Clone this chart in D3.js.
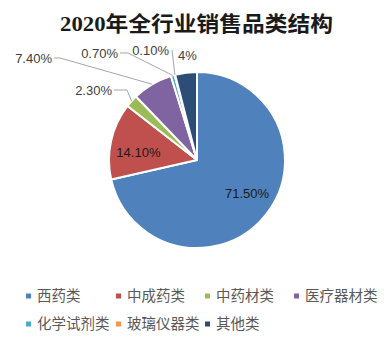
<!DOCTYPE html>
<html><head><meta charset="utf-8">
<script src="https://cdn.jsdelivr.net/npm/d3@7"></script>
<style>html,body{margin:0;padding:0;background:#fff;}svg{display:block;}</style>
</head><body>
<svg id="c" width="391" height="357"></svg>
<script>
// ---- data ----
const categories = ["西药类","中成药类","中药材类","医疗器材类","化学试剂类","玻璃仪器类","其他类"];
const values = [71.5, 14.1, 2.3, 7.4, 0.7, 0.1, 4];
const labels = ["71.50%","14.10%","2.30%","7.40%","0.70%","0.10%","4%"];
const title = "2020年全行业销售品类结构";

// ---- styles / layout (not data) ----
const colors = ["#4F81BD","#C0504D","#9BBB59","#8064A2","#4BACC6","#F79646","#2C4D75"];
const cx = 197, cy = 160, R = 88;
// label layout: inside labels offset from centroid; outside labels anchored at text-end point with elbow
const labelLayout = [
  {type:"in", r:64, dx:0, dy:-7},
  {type:"in", r:60, dx:0, dy:5},
  {type:"out", tx:112, ty:90, ex:127},
  {type:"out", tx:52, ty:58, ex:60},
  {type:"out", tx:118, ty:53, ex:128},
  {type:"out", tx:169, ty:50, ex:172, vertical:true},
  {type:"free", tx:178, ty:55}
];

const svg = d3.select("#c");
svg.append("text")
  .attr("x", 196.5).attr("y", 31)
  .attr("text-anchor","middle")
  .attr("font-family","'Liberation Serif','Noto Sans CJK SC',serif")
  .attr("font-weight","bold").attr("font-size",21)
  .attr("fill","#1a1a1a")
  .attr("textLength",273).attr("lengthAdjust","spacingAndGlyphs")
  .text(title);

const pie = d3.pie().sort(null).value(d=>d);
const arcs = pie(values);
const arc = d3.arc().innerRadius(0).outerRadius(R);
const g = svg.append("g").attr("transform",`translate(${cx},${cy})`);
g.selectAll("path").data(arcs).join("path")
  .attr("d",arc).attr("fill",(d,i)=>colors[i])
  .attr("stroke","#fff").attr("stroke-width",2).attr("stroke-linejoin","round");

const lblFont = "'Liberation Sans',Arial,sans-serif";
arcs.forEach((a,i)=>{
  const L = labelLayout[i];
  const mid = (a.startAngle + a.endAngle)/2;
  if (L.type==="in") {
    const x = cx + Math.sin(mid)*L.r + L.dx, y = cy - Math.cos(mid)*L.r + L.dy;
    svg.append("text").attr("x",x).attr("y",y+4.7).attr("text-anchor","middle")
      .attr("font-family",lblFont).attr("font-size",13).attr("fill","#1a1a1a").text(labels[i]);
  } else if (L.type==="out") {
    const px = cx + Math.sin(mid)*R, py = cy - Math.cos(mid)*R;
    let pts;
    if (L.vertical) pts = [[L.ex, L.ty], [px, py]];
    else pts = [[L.tx+2, L.ty],[L.ex, L.ty],[px, py]];
    svg.append("polyline").attr("points",pts.map(p=>p.join(",")).join(" "))
      .attr("fill","none").attr("stroke","#a6a6a6").attr("stroke-width",1);
    svg.append("text").attr("x",L.tx).attr("y",L.ty+4.7).attr("text-anchor","end")
      .attr("font-family",lblFont).attr("font-size",13).attr("fill","#404040").text(labels[i]);
  } else {
    svg.append("text").attr("x",L.tx).attr("y",L.ty+4.7).attr("text-anchor","start")
      .attr("font-family",lblFont).attr("font-size",13).attr("fill","#404040").text(labels[i]);
  }
});

// legend
const colX = [26, 116, 205, 294];
const rowY = [296, 324];
const leg = svg.append("g");
categories.forEach((c,i)=>{
  const x = colX[i%4], y = rowY[Math.floor(i/4)];
  leg.append("rect").attr("x",x).attr("y",y-2.5).attr("width",5).attr("height",5).attr("fill",colors[i]);
  leg.append("text").attr("x",x+11).attr("y",y+5)
    .attr("font-family","'Noto Sans CJK SC',sans-serif").attr("font-size",14.5)
    .attr("fill","#595959").text(c);
});
</script>
</body></html>
